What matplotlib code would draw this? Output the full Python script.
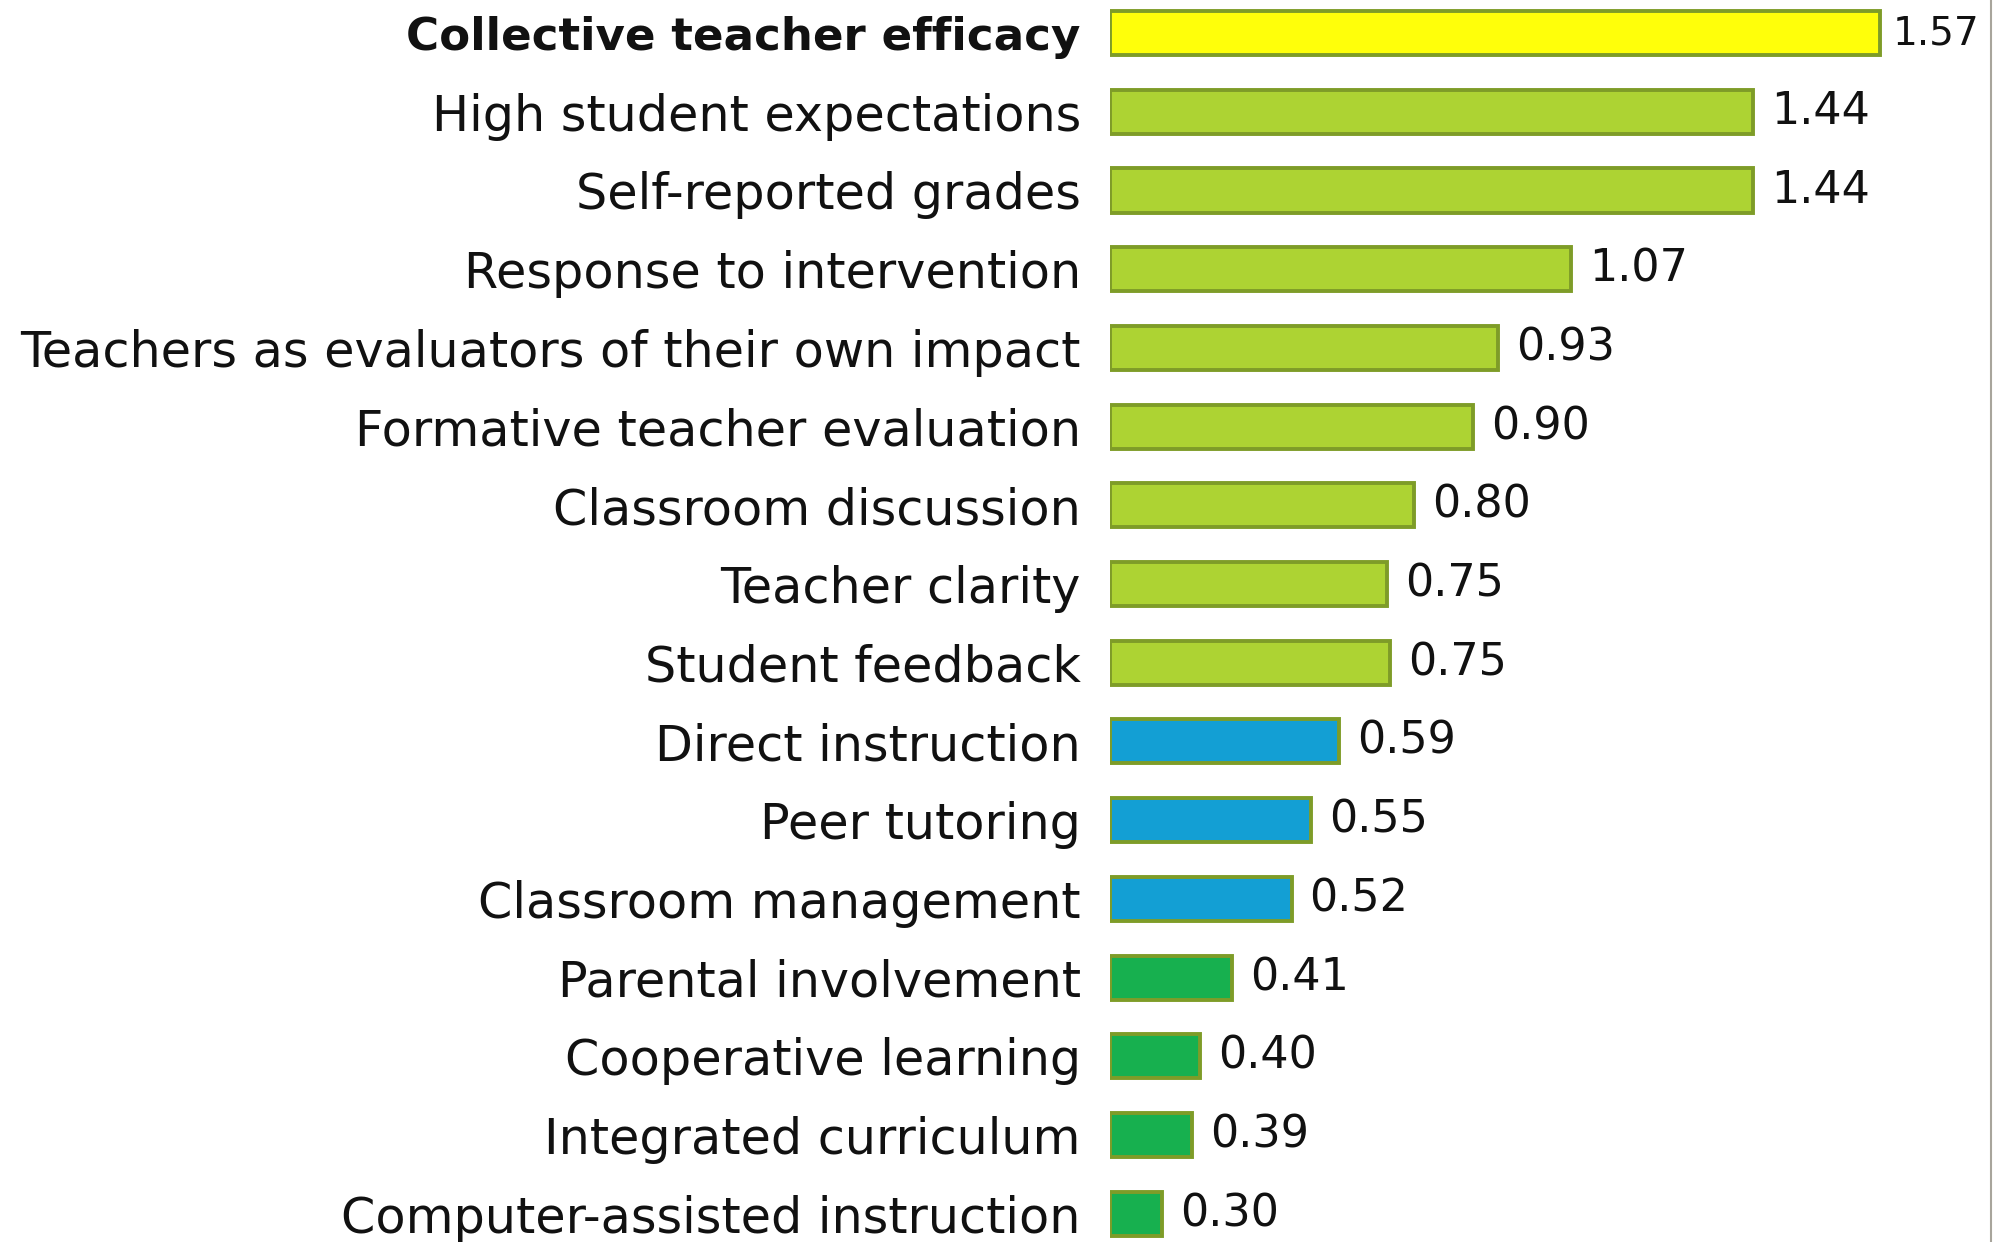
import matplotlib.pyplot as plt
from matplotlib.lines import Line2D

# influences and their effect sizes (labels as printed on the chart)
influences = [
    "Collective teacher efficacy",
    "High student expectations",
    "Self-reported grades",
    "Response to intervention",
    "Teachers as evaluators of their own impact",
    "Formative teacher evaluation",
    "Classroom discussion",
    "Teacher clarity",
    "Student feedback",
    "Direct instruction",
    "Peer tutoring",
    "Classroom management",
    "Parental involvement",
    "Cooperative learning",
    "Integrated curriculum",
    "Computer-assisted instruction",
]
effect_sizes = [1.57, 1.44, 1.44, 1.07, 0.93, 0.90, 0.80, 0.75, 0.75,
                0.59, 0.55, 0.52, 0.41, 0.40, 0.39, 0.30]
# bar lengths as drawn in the source (not to scale with the printed values),
# expressed on the scale of the top bar
bar_lengths = [1.57, 1.31, 1.31, 0.94, 0.79, 0.74, 0.62, 0.565, 0.57,
               0.466, 0.409, 0.37, 0.249, 0.184, 0.168, 0.106]
groups = ["top"] + ["high"] * 8 + ["mid"] * 3 + ["low"] * 4

group_colors = {"top": "#FFFF0A", "high": "#ADD333", "mid": "#139FD4", "low": "#17B04F"}

plt.rcParams['font.family'] = ['DejaVu Sans']

fig = plt.figure(figsize=(19.93, 12.42), dpi=100)
W, H = 1993, 1242
x0 = 1110  # pixel where the bars start
ax = fig.add_axes([x0 / W, 0, 1 - x0 / W, 1])

px_per_unit = 490.6
ax.set_xlim(0, (W - x0) / px_per_unit)
ax.set_ylim(15 + 0.36, -0.42)

y = list(range(len(influences)))
bars = ax.barh(y, bar_lengths, height=0.56,
               color=[group_colors[g] for g in groups],
               edgecolor="#7E9C28", linewidth=2.8)

vals = ax.bar_label(bars, labels=["%.2f" % v for v in effect_sizes],
                    padding=13, fontsize=32, color="#111111")
# top value sits against the right edge, so it is a little smaller
vals[0].set_fontsize(28)
vals[0].xyann = (9, 0)

ax.set_yticks(y)
ax.set_yticklabels(influences, fontsize=35.5, color="#111111")
ax.get_yticklabels()[0].set_fontweight("bold")
ax.get_yticklabels()[0].set_fontsize(32.5)
ax.tick_params(axis="y", length=0, pad=21)
ax.set_xticks([])
for s in ax.spines.values():
    s.set_visible(False)

# thin grey frame line on the right edge
fig.add_artist(Line2D([1990.5 / W, 1990.5 / W], [0, 1], color="#A8A59C", linewidth=1.5))

plt.savefig("out.png", dpi=100)
